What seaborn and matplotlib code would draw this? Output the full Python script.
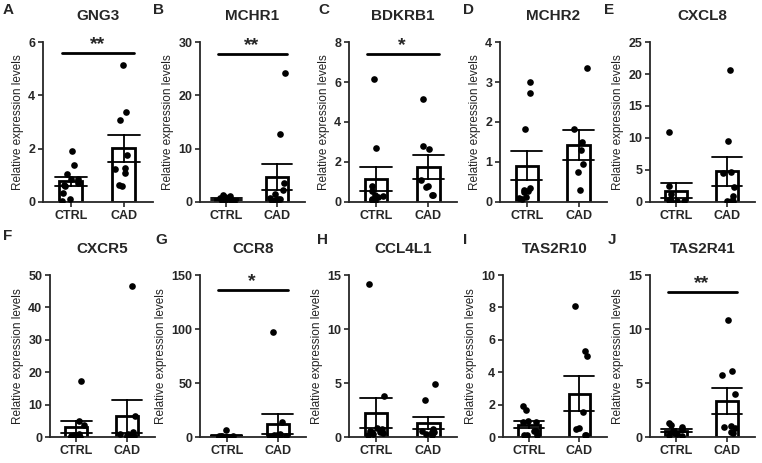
import numpy as np
import pandas as pd
import seaborn as sns
import matplotlib.pyplot as plt

# values (relative expression levels)
genes = ["GNG3", "MCHR1", "BDKRB1", "MCHR2", "CXCL8",
         "CXCR5", "CCR8", "CCL4L1", "TAS2R10", "TAS2R41"]
letters = ["A", "B", "C", "D", "E", "F", "G", "H", "I", "J"]
ymax = [6, 30, 8, 4, 25, 50, 150, 15, 10, 15]
ystep = [2, 10, 2, 1, 5, 10, 50, 5, 2, 5]

gng3_ctrl = [1.92, 1.37, 1.05, 0.88, 0.85, 0.7, 0.62, 0.6, 0.35, 0.1, 0.05]
gng3_cad = [5.12, 3.37, 3.06, 1.77, 1.27, 1.25, 1.09, 0.65, 0.59]
mchr1_ctrl = [1.3, 1.1, 0.9, 0.7, 0.5, 0.4, 0.3, 0.2, 0.1, 0.05]
mchr1_cad = [24.2, 12.7, 3.5, 2.2, 1.5, 0.7, 0.6, 0.5, 0.4, 0.2]
bdkrb1_ctrl = [6.15, 2.7, 0.78, 0.55, 0.35, 0.3, 0.25, 0.15, 0.1, 0.05]
bdkrb1_cad = [5.13, 2.8, 2.65, 1.12, 0.8, 0.75, 0.35, 0.33]
mchr2_ctrl = [3.0, 2.73, 1.82, 0.36, 0.3, 0.27, 0.25, 0.12, 0.1, 0.08]
mchr2_cad = [3.36, 1.82, 1.49, 1.31, 0.94, 0.75, 0.3]
cxcl8_ctrl = [11.0, 2.5, 1.2, 0.5, 0.3, 0.2, 0.15, 0.1, 0.1]
cxcl8_cad = [20.7, 9.5, 4.7, 4.5, 2.4, 0.9, 0.15, 0.1, 0.1]
cxcr5_ctrl = [17.3, 4.9, 3.6, 1.0, 0.6, 0.3, 0.2, 0.1, 0.1]
cxcr5_cad = [46.5, 6.6, 1.5, 1.0, 0.8, 0.6, 0.3, 0.2, 0.1]
ccr8_ctrl = [6.8, 1.0, 0.8, 0.6, 0.5, 0.4, 0.3, 0.2, 0.1]
ccr8_cad = [97.0, 13.9, 3.0, 2.0, 1.5, 1.0, 0.8, 0.5, 0.3, 0.2]
ccl4l1_ctrl = [14.2, 3.8, 0.8, 0.7, 0.6, 0.5, 0.5, 0.4, 0.3, 0.2]
ccl4l1_cad = [4.95, 3.4, 0.75, 0.6, 0.5, 0.45, 0.4, 0.3, 0.2]
tas2r10_ctrl = [1.9, 1.68, 1.0, 0.95, 0.9, 0.4, 0.35, 0.15, 0.12, 0.1]
tas2r10_cad = [8.1, 5.3, 5.0, 1.55, 0.55, 0.5, 0.15, 0.1]
tas2r41_ctrl = [1.3, 1.1, 0.9, 0.7, 0.55, 0.45, 0.35, 0.3, 0.2, 0.1]
tas2r41_cad = [10.8, 6.1, 5.7, 4.0, 1.0, 0.9, 0.8, 0.5, 0.4]

ctrl_vals = [gng3_ctrl, mchr1_ctrl, bdkrb1_ctrl, mchr2_ctrl, cxcl8_ctrl,
             cxcr5_ctrl, ccr8_ctrl, ccl4l1_ctrl, tas2r10_ctrl, tas2r41_ctrl]
cad_vals = [gng3_cad, mchr1_cad, bdkrb1_cad, mchr2_cad, cxcl8_cad,
            cxcr5_cad, ccr8_cad, ccl4l1_cad, tas2r10_cad, tas2r41_cad]

# significance marks: gene -> (stars, bar height)
sig = {"GNG3": ("**", 5.6), "MCHR1": ("**", 27.8), "BDKRB1": ("*", 7.4),
       "CCR8": ("*", 136), "TAS2R41": ("**", 13.4)}

sns.set_style("ticks")
plt.rcParams['font.family'] = ['Liberation Sans', 'DejaVu Sans']

fig = plt.figure(figsize=(7.62, 4.63), dpi=100)
W, H = 762, 463
lefts = [43, 200, 349, 500, 650, 50, 200, 349, 503, 650]
rights = [153, 305, 457, 607, 755, 155, 306, 457, 607, 755]
tops = [42] * 5 + [275] * 5
bottoms = [202] * 5 + [437] * 5
letter_pos = [(3, 10), (153, 10), (318, 10), (463, 10), (604, 10),
              (3, 236), (155, 240), (317, 240), (463, 240), (608, 240)]

np.random.seed(3)
for i, g in enumerate(genes):
    ax = fig.add_axes([lefts[i] / W, 1 - bottoms[i] / H,
                       (rights[i] - lefts[i]) / W, (bottoms[i] - tops[i]) / H])
    df = pd.DataFrame({
        "group": ["CTRL"] * len(ctrl_vals[i]) + ["CAD"] * len(cad_vals[i]),
        "value": ctrl_vals[i] + cad_vals[i],
    })
    sns.barplot(data=df, x="group", y="value", order=["CTRL", "CAD"],
                errorbar="se", capsize=0.6, width=0.43, color="white",
                edgecolor="black", linewidth=2.0,
                err_kws={"color": "black", "linewidth": 1.3}, ax=ax)
    sns.stripplot(data=df, x="group", y="value", order=["CTRL", "CAD"],
                  jitter=0.17, color="black", size=4.8, ax=ax)

    ax.set_xlim(-0.52, 1.55)
    ax.set_ylim(0, ymax[i])
    ax.set_yticks(np.arange(0, ymax[i] + ystep[i] / 2, ystep[i]))
    ax.set_xlabel("")
    ax.set_ylabel("Relative expression levels", fontsize=8.5, labelpad=3,
                  color="#222222")
    ax.set_title(g, fontsize=11, fontweight="bold", pad=16)
    ax.tick_params(axis="both", length=3.5, width=1.2, labelsize=9, pad=2)
    for lab in ax.get_xticklabels() + ax.get_yticklabels():
        lab.set_fontweight("bold")
    sns.despine(ax=ax)
    for s in ["left", "bottom"]:
        ax.spines[s].set_linewidth(1.3)
    ax.spines["left"].set_bounds(0, ymax[i])

    if g in sig:
        stars, yb = sig[g]
        ax.plot([-0.17, 1.2], [yb, yb], color="black", lw=2.0, clip_on=False)
        ax.text(0.5, yb, stars, ha="center", va="bottom",
                fontsize=14, fontweight="bold")

    lx, ly = letter_pos[i]
    fig.text(lx / W, 1 - ly / H, letters[i], fontsize=11,
             fontweight="bold", va="center", ha="left")

fig.savefig("out.png", dpi=100)
